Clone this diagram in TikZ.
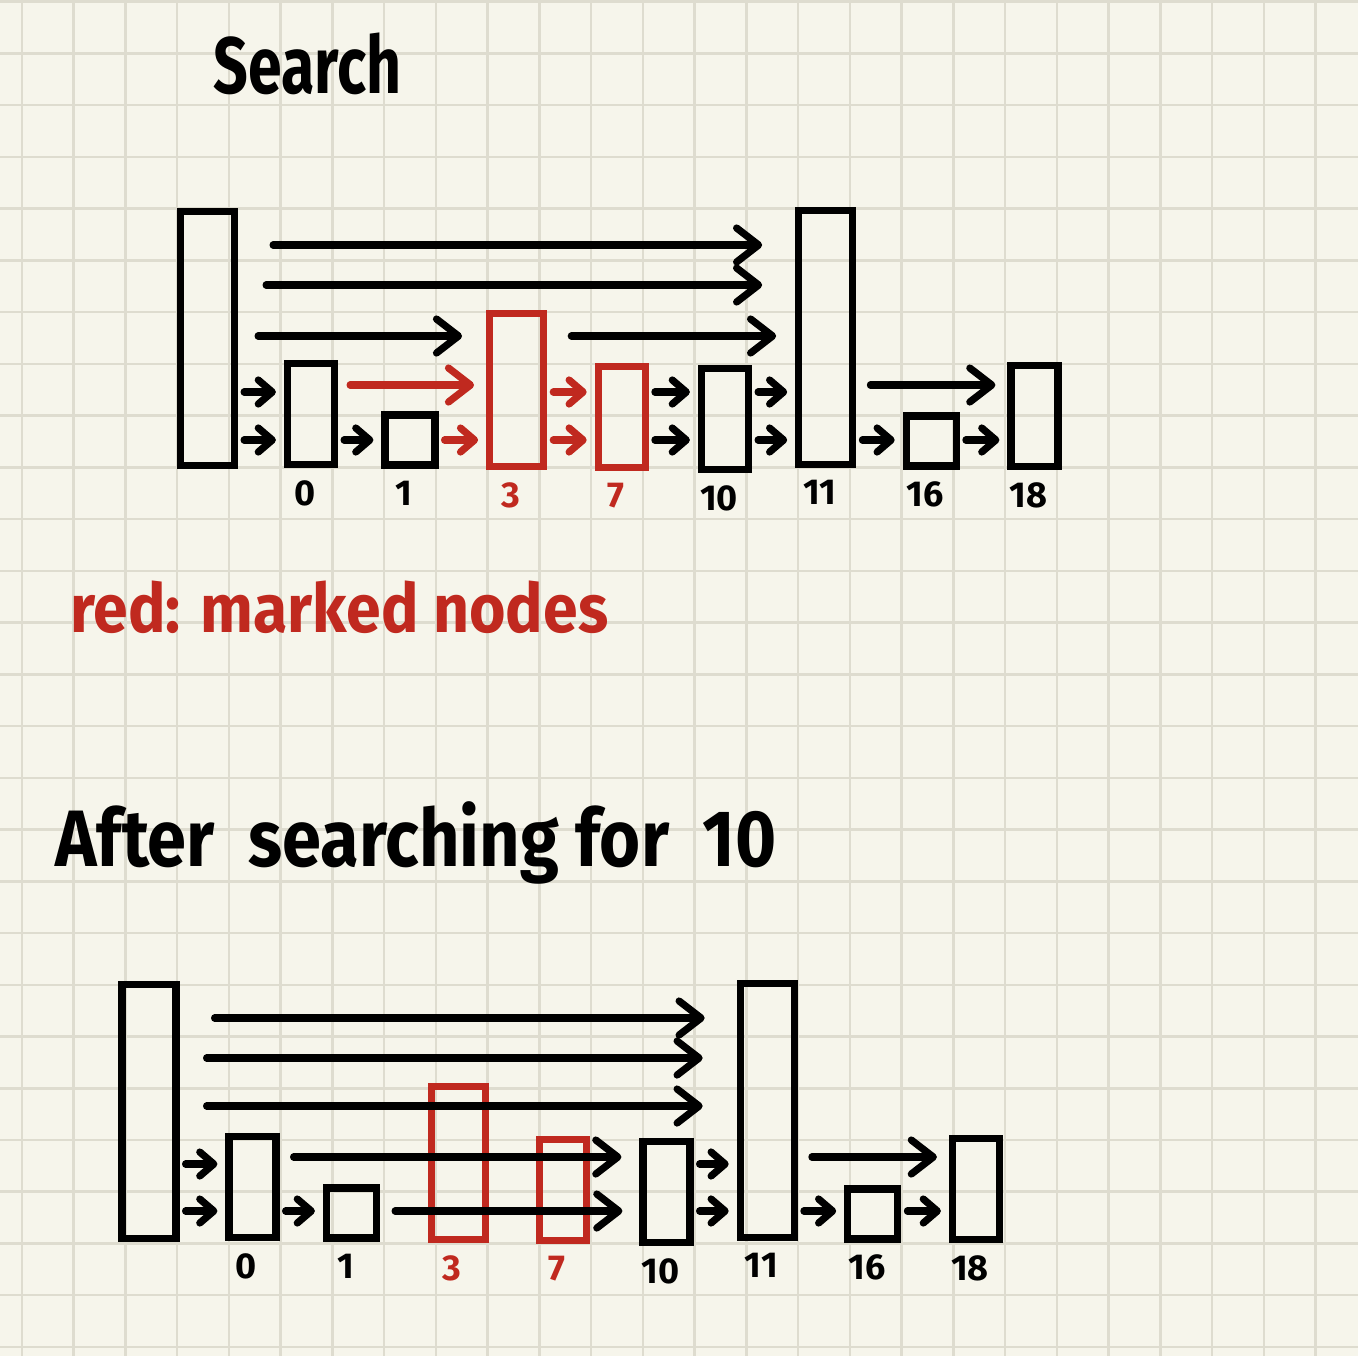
\documentclass[tikz,border=0pt]{standalone}
\usepackage{fontspec}
\setmainfont{Fira Sans}
\usetikzlibrary{positioning,arrows.meta}

\definecolor{paper}{HTML}{F6F5EB}
\definecolor{gridline}{HTML}{DEDCCF}
\definecolor{redink}{HTML}{C0291F}

\begin{document}
\begin{tikzpicture}[x=0.5pt, y=-0.5pt,
  box/.style = {draw, line width=3.6pt, inner sep=0pt, minimum width=23.5pt},
  tallbox/.style = {box, minimum width=27pt, minimum height=127pt},
  midbox/.style = {box, minimum width=27pt, minimum height=76.5pt},
  lowbox/.style = {box, minimum height=50.5pt},
  sqbox/.style = {box, minimum width=25pt, minimum height=25pt},
  key/.style = {inner sep=0pt, font=\bfseries\fontsize{18}{18}\selectfont,
    below=6pt of #1, xshift=-3pt},
  arr/.style = {line width=3.6pt, line cap=round,
    -{Straight Barb[round, length=7pt, width=12pt]},
    shorten <=3pt, shorten >=4pt},
  longarr/.style = {arr, -{Straight Barb[round, length=11pt, width=17pt]}},
  hand/.style = {inner sep=0pt, anchor=base west,
    font=\bfseries\fontsize{#1}{#1}\selectfont}
  ]
  \useasboundingbox (0,0) rectangle (1358,1356);
  \fill[paper] (0,0) rectangle (1358,1356);
  \foreach \i in {0,...,25}
    \draw[gridline, line width=1.25pt] ({22+51.74*\i},0) -- ++(0,1356);
  \foreach \j in {0,...,26}
    \draw[gridline, line width=1.25pt] (0,{1.7+51.74*\j}) -- ++(1358,0);

  \node[hand=40] (title) at (213,93) {\scalebox{0.76}[1]{Search}};
  \node[hand=34, text=redink] (legend) at (70,632) {\scalebox{0.92}[1]{red: marked nodes}};
  \node[hand=40] (caption) at (55,866) {\scalebox{0.88}[1]{After\ \ searching\ for\ \ 10}};

  \begin{scope}[name prefix=t-]
    \coordinate (l4) at (0,245);
    \coordinate (l3) at (0,285);
    \coordinate (l2) at (0,336);
    \coordinate (l1a) at (0,385);
    \coordinate (l1) at (0,392);
    \coordinate (l0) at (0,440);

    \node[tallbox] (head) at (207.5,338.6) {};
    \node[lowbox] (n0) at (311,413.8) {};
    \node[sqbox] (n1) at (410,440) {};
    \node[midbox, draw=redink] (n3) at (516.7,389.8) {};
    \node[lowbox, draw=redink] (n7) at (621.8,417) {};
    \node[lowbox] (n10) at (725,419.3) {};
    \node[tallbox] (n11) at (825.8,337.5) {};
    \node[sqbox] (n16) at (931.3,441) {};
    \node[lowbox] (n18) at (1034.5,416) {};

    \node[key=n0] (k0) {0};
    \node[key=n1] (k1) {1};
    \node[key=n3, text=redink] (k3) {3};
    \node[key=n7, text=redink] (k7) {7};
    \node[key=n10] (k10) {10};
    \node[key=n11] (k11) {11};
    \node[key=n16] (k16) {16};
    \node[key=n18] (k18) {18};

    \draw[longarr, shorten <=17.5pt, shorten >=16.5pt] (head.east |- l4) -- (n11.west |- l4);
    \draw[longarr, shorten <=14pt, shorten >=16.5pt] (head.east |- l3) -- (n11.west |- l3);
    \draw[longarr, shorten <=10pt, shorten >=12pt] (head.east |- l2) -- (n3.west |- l2);
    \draw[longarr, shorten <=12pt, shorten >=9.5pt] (n3.east |- l2) -- (n11.west |- l2);

    \draw[arr] (head.east |- l1) -- (n0.west |- l1);
    \draw[longarr, redink, shorten <=6pt, shorten >=6pt] (n0.east |- l1a) -- (n3.west |- l1a);
    \draw[arr, redink] (n3.east |- l1) -- (n7.west |- l1);
    \draw[arr] (n7.east |- l1) -- (n10.west |- l1);
    \draw[arr] (n10.east |- l1) -- (n11.west |- l1);
    \draw[longarr, shorten <=7pt, shorten >=6pt] (n11.east |- l1a) -- (n18.west |- l1a);

    \draw[arr] (head.east |- l0) -- (n0.west |- l0);
    \draw[arr] (n0.east |- l0) -- (n1.west |- l0);
    \draw[arr, redink] (n1.east |- l0) -- (n3.west |- l0);
    \draw[arr, redink] (n3.east |- l0) -- (n7.west |- l0);
    \draw[arr] (n7.east |- l0) -- (n10.west |- l0);
    \draw[arr] (n10.east |- l0) -- (n11.west |- l0);
    \draw[arr] (n11.east |- l0) -- (n16.west |- l0);
    \draw[arr] (n16.east |- l0) -- (n18.west |- l0);
  \end{scope}

  \begin{scope}[shift={(-58.5,773)}, name prefix=b-]
    \coordinate (l4) at (0,245);
    \coordinate (l3) at (0,285);
    \coordinate (l2) at (0,333);
    \coordinate (l1a) at (0,384);
    \coordinate (l1) at (0,391);
    \coordinate (l0) at (0,438);

    \node[tallbox] (head) at (207.5,338.6) {};
    \node[lowbox] (n0) at (311,413.8) {};
    \node[sqbox] (n1) at (410,440) {};
    \node[midbox, draw=redink] (n3) at (516.7,389.8) {};
    \node[lowbox, draw=redink] (n7) at (621.8,417) {};
    \node[lowbox] (n10) at (725,419.3) {};
    \node[tallbox] (n11) at (825.8,337.5) {};
    \node[sqbox] (n16) at (931.3,441) {};
    \node[lowbox] (n18) at (1034.5,416) {};

    \node[key=n0] (k0) {0};
    \node[key=n1] (k1) {1};
    \node[key=n3, text=redink] (k3) {3};
    \node[key=n7, text=redink] (k7) {7};
    \node[key=n10] (k10) {10};
    \node[key=n11] (k11) {11};
    \node[key=n16] (k16) {16};
    \node[key=n18] (k18) {18};

    \draw[longarr, shorten <=17.5pt, shorten >=16pt] (head.east |- l4) -- (n11.west |- l4);
    \draw[longarr, shorten <=13.5pt, shorten >=17pt] (head.east |- l3) -- (n11.west |- l3);
    \draw[longarr, shorten <=13.5pt, shorten >=17pt] (head.east |- l2) -- (n11.west |- l2);

    \draw[arr] (head.east |- l1) -- (n0.west |- l1);
    \draw[longarr, shorten <=7pt, shorten >=9pt] (n0.east |- l1a) -- (n10.west |- l1a);
    \draw[arr] (n10.east |- l1) -- (n11.west |- l1);
    \draw[longarr, shorten <=7pt, shorten >=6pt] (n11.east |- l1a) -- (n18.west |- l1a);

    \draw[arr] (head.east |- l0) -- (n0.west |- l0);
    \draw[arr] (n0.east |- l0) -- (n1.west |- l0);
    \draw[longarr, shorten <=7.5pt, shorten >=8.5pt] (n1.east |- l0) -- (n10.west |- l0);
    \draw[arr] (n10.east |- l0) -- (n11.west |- l0);
    \draw[arr] (n11.east |- l0) -- (n16.west |- l0);
    \draw[arr] (n16.east |- l0) -- (n18.west |- l0);
  \end{scope}
\end{tikzpicture}
\end{document}
